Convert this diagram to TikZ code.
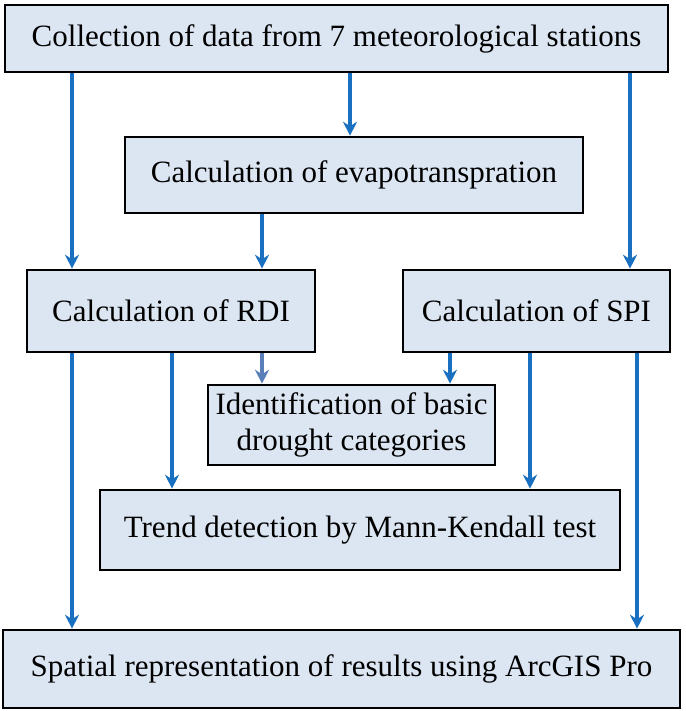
\documentclass[tikz,border=0pt]{standalone}
\usepackage{fontspec}
\setmainfont{Liberation Serif}
\usetikzlibrary{arrows.meta}
\begin{document}
\begin{tikzpicture}[x=1pt,y=-1pt,
  box/.style={draw=black,line width=2.6pt,fill=boxfill,inner sep=0pt,font=\fontsize{31}{35}\selectfont,align=center},
  arr/.style={draw=arrowc,line width=3.2pt,-{Stealth[length=14pt,width=14pt]}},
  arrl/.style={arr,draw=arrowl}]
\definecolor{boxfill}{HTML}{DCE6F2}
\definecolor{arrowc}{HTML}{1A70C0}
\definecolor{arrowl}{HTML}{5A7FB8}
\useasboundingbox (0,0) rectangle (685,711);
\node[box,minimum width=663pt,minimum height=67pt] (b1) at (336.5,38.5) {Collection of data from 7 meteorological stations};
\node[box,minimum width=458pt,minimum height=76pt] (b2) at (354,175) {Calculation of evapotranspration};
\node[box,minimum width=288pt,minimum height=82pt] (b3) at (171,311) {Calculation of RDI};
\node[box,minimum width=267pt,minimum height=82pt] (b4) at (536.5,311) {Calculation of SPI};
\node[box,minimum width=287pt,minimum height=80pt,font=\fontsize{31}{36}\selectfont] (b5) at (351.5,425) {Identification of basic\\drought categories};
\node[box,minimum width=520pt,minimum height=80pt] (b6) at (360,530) {Trend detection by Mann-Kendall test};
\node[box,minimum width=677pt,minimum height=78pt] (b7) at (341.5,669) {Spatial representation of results using ArcGIS Pro};
\coordinate (xa) at (72,0);
\coordinate (xb) at (350,0);
\coordinate (xc) at (630,0);
\coordinate (xd) at (262,0);
\coordinate (xe) at (172,0);
\coordinate (xf) at (450,0);
\coordinate (xg) at (530,0);
\coordinate (xh) at (637,0);
\draw[arr] (b1.south -| xa) -- (b3.north -| xa);
\draw[arr] (b1.south -| xb) -- (b2.north -| xb);
\draw[arr] (b1.south -| xc) -- (b4.north -| xc);
\draw[arr] (b2.south -| xd) -- (b3.north -| xd);
\draw[arr] (b3.south -| xa) -- (b7.north -| xa);
\draw[arr] (b3.south -| xe) -- (b6.north -| xe);
\draw[arrl] (b3.south -| xd) -- (b5.north -| xd);
\draw[arr] (b4.south -| xf) -- (b5.north -| xf);
\draw[arr] (b4.south -| xg) -- (b6.north -| xg);
\draw[arr] (b4.south -| xh) -- (b7.north -| xh);
\end{tikzpicture}
\end{document}
